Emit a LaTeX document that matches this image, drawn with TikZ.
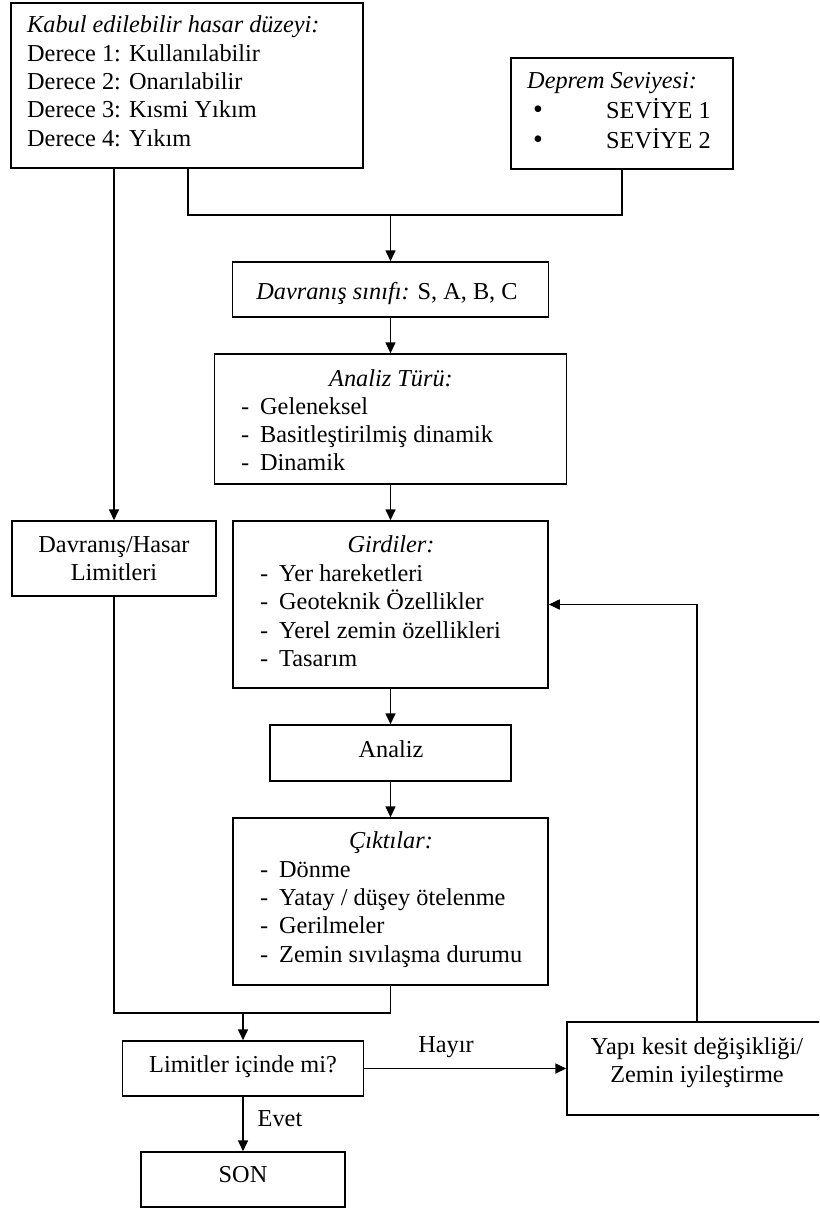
\documentclass[tikz,border=0pt]{standalone}
\usepackage{fontspec}
\setmainfont{Liberation Serif}
\usetikzlibrary{arrows.meta}
\begin{document}
\begin{tikzpicture}[x=1pt,y=-1pt,
  box/.style={draw, line width=1.5pt, inner sep=0pt},
  txt/.style={inner sep=0pt, font=\fontsize{24.3}{28.5}\selectfont},
  bul/.style={inner sep=0pt, font=\fontsize{28}{28}\selectfont, anchor=base},
  conn/.style={line width=1.6pt},
  arr/.style={line width=1.6pt, -{Triangle[length=11pt,width=10pt]}}
]
\useasboundingbox (0,0) rectangle (819,1209);
\clip (0,0) rectangle (819,1209);

% ---------- boxes ----------
\node[box, minimum width=352pt, minimum height=165pt] (kabul)  at (187,85.5) {};
\node[box, minimum width=222pt, minimum height=111pt] (deprem) at (622,113.5) {};
\node[box, minimum width=316pt, minimum height=55pt]  (sinif)  at (390.5,289.5) {};
\node[box, minimum width=352pt, minimum height=130pt] (tur)    at (390.5,419) {};
\node[box, minimum width=204pt, minimum height=75pt]  (limit)  at (114,558.5) {};
\node[box, minimum width=315pt, minimum height=167pt] (girdi)  at (390.5,604.5) {};
\node[box, minimum width=241pt, minimum height=56pt]  (analiz) at (390.5,753) {};
\node[box, minimum width=315pt, minimum height=167pt] (cikti)  at (390.5,901.5) {};
\node[box, minimum width=241pt, minimum height=55pt]  (icinde) at (243,1068.5) {};
\node[box, minimum width=260pt, minimum height=93pt]  (yapi)   at (697,1068.5) {};
\node[box, minimum width=204pt, minimum height=55pt]  (son)    at (243,1179.5) {};

% ---------- texts ----------
\node[txt, anchor=base west] (k0) at (27,33)  {\textit{Kabul edilebilir hasar düzeyi:}};
\node[txt, anchor=base west] (k1) at (27,62)  {Derece 1: Kullanılabilir};
\node[txt, anchor=base west] (k2) at (27,90)  {Derece 2: Onarılabilir};
\node[txt, anchor=base west] (k3) at (27,118) {Derece 3: Kısmi Yıkım};
\node[txt, anchor=base west] (k4) at (27,147) {Derece 4: Yıkım};

\node[txt, anchor=base west] (d0) at (527,89)  {\textit{Deprem Seviyesi:}};
\node[bul] (d1b) at (538,119) {•};
\node[bul] (d2b) at (538,149) {•};
\node[txt, anchor=base west] (d1) at (606,119) {SEVİYE 1};
\node[txt, anchor=base west] (d2) at (606,149) {SEVİYE 2};

\node[txt, anchor=base] (s0) at (387,299) {\textit{Davranış sınıfı:} S, A, B, C};

\node[txt, anchor=base] (t0) at (391,386) {\textit{Analiz Türü:}};
\node[txt, anchor=base west] (t1) at (241,414) {\makebox[19pt][l]{-}Geleneksel};
\node[txt, anchor=base west] (t2) at (241,442) {\makebox[19pt][l]{-}Basitleştirilmiş dinamik};
\node[txt, anchor=base west] (t3) at (241,470) {\makebox[19pt][l]{-}Dinamik};

\node[txt, anchor=base] (l1) at (114,552) {Davranış/Hasar};
\node[txt, anchor=base] (l2) at (114,580) {Limitleri};

\node[txt, anchor=base] (g0) at (391,552) {\textit{Girdiler:}};
\node[txt, anchor=base west] (g1) at (260,581) {\makebox[19pt][l]{-}Yer hareketleri};
\node[txt, anchor=base west] (g2) at (260,609) {\makebox[19pt][l]{-}Geoteknik Özellikler};
\node[txt, anchor=base west] (g3) at (260,638) {\makebox[19pt][l]{-}Yerel zemin özellikleri};
\node[txt, anchor=base west] (g4) at (260,666) {\makebox[19pt][l]{-}Tasarım};

\node[txt, anchor=base] (a0) at (391,757) {Analiz};

\node[txt, anchor=base] (c0) at (391,848) {\textit{Çıktılar:}};
\node[txt, anchor=base west] (c1) at (260,877) {\makebox[19pt][l]{-}Dönme};
\node[txt, anchor=base west] (c2) at (260,905) {\makebox[19pt][l]{-}Yatay / düşey ötelenme};
\node[txt, anchor=base west] (c3) at (260,933) {\makebox[19pt][l]{-}Gerilmeler};
\node[txt, anchor=base west] (c4) at (260,962) {\makebox[19pt][l]{-}Zemin sıvılaşma durumu};

\node[txt, anchor=base] (i0) at (243,1072) {Limitler içinde mi?};
\node[txt, anchor=base] (y1) at (697,1054) {Yapı kesit değişikliği/};
\node[txt, anchor=base] (y2) at (697,1082) {Zemin iyileştirme};
\node[txt, anchor=base] (n0) at (243,1182) {SON};

\node[txt, anchor=base] (hayir) at (446,1052) {Hayır};
\node[txt, anchor=base] (evet)  at (280,1126) {Evet};

% ---------- connectors ----------
\coordinate (j1) at (188,215);
\coordinate (j2) at (243,1013);

\draw[arr] (kabul.south -| limit.north) -- (limit.north);
\draw[conn] (kabul.south -| j1) -- (j1) -- (deprem.south |- j1) -- (deprem.south);
\draw[arr] (sinif.north |- j1) -- (sinif.north);
\draw[arr] (sinif) -- (tur);
\draw[arr] (tur) -- (girdi);
\draw[arr] (girdi) -- (analiz);
\draw[arr] (analiz) -- (cikti);
\draw[conn] (limit.south) -- (limit.south |- j2) -- (cikti.south |- j2) -- (cikti.south);
\draw[arr] (j2) -- (icinde.north);
\draw[arr] (icinde.east) -- (yapi.west);
\draw[arr] (icinde) -- (son);
\draw[arr] (yapi.north) |- (girdi.east);
\end{tikzpicture}
\end{document}
